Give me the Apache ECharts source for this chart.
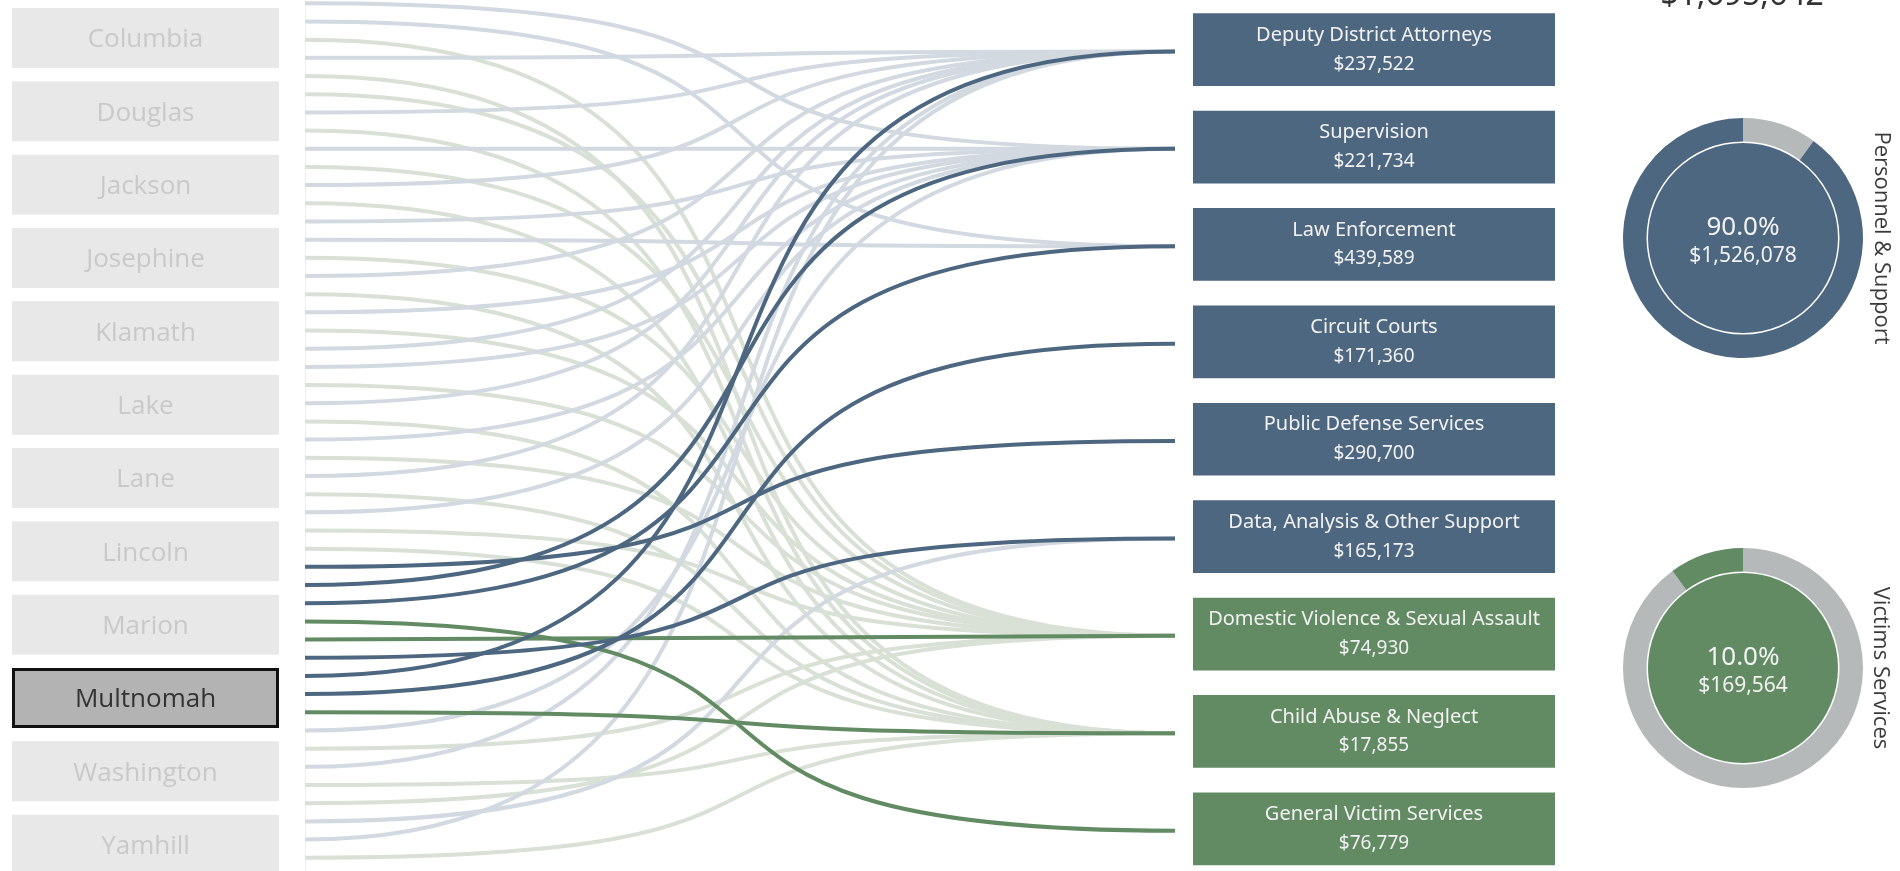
<!DOCTYPE html>
<html>
<head>
<meta charset="utf-8">
<title>Grant spending by county</title>
<script src="https://cdn.jsdelivr.net/npm/echarts@6/dist/echarts.min.js"></script>
<style>
  html, body { margin: 0; padding: 0; background: #fff; }
  #main { width: 1900px; height: 871px; }
</style>
</head>
<body>
<div id="main"></div>
<script>
// counties on the left
const counties = ['Columbia', 'Douglas', 'Jackson', 'Josephine', 'Klamath', 'Lake', 'Lane', 'Lincoln', 'Marion', 'Multnomah', 'Washington', 'Yamhill']
const selectedCounty = 'Multnomah'

// spending categories on the right
const categories = ['Deputy District Attorneys', 'Supervision', 'Law Enforcement', 'Circuit Courts', 'Public Defense Services', 'Data, Analysis & Other Support', 'Domestic Violence & Sexual Assault', 'Child Abuse & Neglect', 'General Victim Services']
const categoryCodes = ['DDA', 'SUP', 'LAW', 'CC', 'PDS', 'DATA', 'DV', 'CAN', 'GVS']
const categoryGroup = [0, 0, 0, 0, 0, 0, 1, 1, 1]
// amounts for the selected county
const amounts = [237522, 221734, 439589, 171360, 290700, 165173, 74930, 17855, 76779]

const groupNames = ['Personnel & Support', 'Victims Services']

// one line per county/category pair, top to bottom
const countyLinks = {
  Columbia: ['SUP', 'LAW', 'DV', 'DDA', 'CAN'],
  Douglas: ['DV', 'DDA', 'CAN'],
  Jackson: ['SUP', 'DV', 'DDA', 'CAN'],
  Josephine: ['SUP', 'LAW', 'DV', 'DDA', 'CAN'],
  Klamath: ['SUP', 'DV', 'DDA'],
  Lake: ['SUP', 'DV', 'DDA', 'CAN'],
  Lane: ['SUP', 'DV', 'DDA', 'CAN'],
  Lincoln: ['SUP', 'DV'],
  Marion: ['CAN'],
  Multnomah: ['PDS', 'SUP', 'LAW', 'GVS', 'DV', 'DATA', 'DDA', 'CC', 'CAN'],
  Washington: ['SUP', 'DV', 'DDA', 'CAN'],
  Yamhill: ['DV', 'DATA', 'DDA', 'CAN']
}

const colors = {
  personnel: '#4e6781',
  victims: '#628b64',
  personnelLight: '#d3d9e0',
  victimsLight: '#d9e0d6',
  ring: '#b5b9ba',
  county: '#e8e8e8',
  countySelected: '#b3b3b3'
}

// build the line list
let lines = []
let rank = 0
counties.forEach((county, ci) => {
  (countyLinks[county] || []).forEach(code => {
    lines.push([rank, categoryCodes.indexOf(code), ci])
    rank++
  })
})
// selected county drawn on top
const selIdx = counties.indexOf(selectedCounty)
lines.sort((a, b) => (a[2] === selIdx) - (b[2] === selIdx))

const groupTotals = [0, 0]
amounts.forEach((v, i) => { groupTotals[categoryGroup[i]] += v })
const grandTotal = groupTotals[0] + groupTotals[1]

const RANK_MIN = -0.13
const RANK_MAX = 48.09

function money(v) {
  return '$' + v.toString().replace(/\B(?=(\d{3})+(?!\d))/g, ',')
}

// line end sits at the middle of its category box
function endRank(k) {
  return RANK_MIN + (k + 0.5) * (RANK_MAX - RANK_MIN) / categories.length + 0.1
}

const chart = echarts.init(document.getElementById('main'))

const hiddenValue = (grid) => ({ type: 'value', gridIndex: grid, min: 0, max: 1, show: false })

function donut(group, cy) {
  const main = group === 0 ? colors.personnel : colors.victims
  const other = 1 - group
  return [
    {
      type: 'pie', silent: true, center: [1743, cy], radius: [96.5, 120],
      startAngle: 90, clockwise: true, label: { show: false }, labelLine: { show: false },
      itemStyle: { borderWidth: 0 }, emphasis: { disabled: true },
      data: [
        { value: groupTotals[other], itemStyle: { color: colors.ring } },
        { value: groupTotals[group], itemStyle: { color: main } }
      ]
    },
    {
      type: 'pie', silent: true, center: [1743, cy], radius: [0, 95],
      itemStyle: { color: main, borderWidth: 0 }, emphasis: { disabled: true },
      label: {
        show: true, position: 'center', padding: [6, 0, 0, 0],
        formatter: () => '{p|' + (groupTotals[group] / grandTotal * 100).toFixed(1) + '%}\n{a|' + money(groupTotals[group]) + '}',
        rich: {
          p: { fontFamily: 'Noto Sans', fontSize: 26, color: '#f2f2f2', lineHeight: 31 },
          a: { fontFamily: 'Noto Sans', fontSize: 21, color: '#f2f2f2', lineHeight: 27 }
        }
      },
      data: [{ value: groupTotals[group], name: groupNames[group] }]
    }
  ]
}

const option = {
  animation: false,
  grid: [
    { left: 12, top: 1.35, width: 267, height: 880, outerBoundsMode: 'none' },
    { left: 305, top: 0.95, width: 870, height: 876.6, outerBoundsMode: 'none' },
    { left: 1193, top: 0.95, width: 362, height: 876.6, outerBoundsMode: 'none' }
  ],
  xAxis: [hiddenValue(0), hiddenValue(1), hiddenValue(2)],
  yAxis: [
    { type: 'category', gridIndex: 0, data: counties, inverse: true, show: false },
    {
      type: 'value', gridIndex: 1, min: RANK_MIN, max: RANK_MAX, inverse: true,
      axisLine: { show: true, lineStyle: { color: '#eeeeee', width: 1 } },
      axisTick: { show: false }, axisLabel: { show: false }, splitLine: { show: false }
    },
    { type: 'category', gridIndex: 2, data: categories, inverse: true, show: false }
  ],
  series: [
    {
      type: 'bar', xAxisIndex: 0, yAxisIndex: 0, barWidth: 60, silent: true,
      data: counties.map(name => ({
        value: 1,
        itemStyle: name === selectedCounty
          ? { color: colors.countySelected, borderColor: '#111', borderWidth: 3 }
          : { color: colors.county },
        label: { color: name === selectedCounty ? '#333' : '#c9c9c9' }
      })),
      label: { show: true, position: 'inside', offset: [0, 2], formatter: '{b}', fontFamily: 'Open Sans', fontSize: 26 }
    },
    {
      type: 'custom', xAxisIndex: 1, yAxisIndex: 1, silent: true,
      data: lines,
      renderItem: function (params, api) {
        const dest = api.value(1)
        const sel = api.value(2) === selIdx
        const start = api.coord([0, api.value(0)])
        const end = api.coord([1, endRank(dest)])
        const w = end[0] - start[0]
        const personnel = categoryGroup[dest] === 0
        let stroke
        if (sel) stroke = personnel ? colors.personnel : colors.victims
        else stroke = personnel ? colors.personnelLight : colors.victimsLight
        return {
          type: 'bezierCurve',
          shape: {
            x1: start[0], y1: start[1], x2: end[0], y2: end[1],
            cpx1: start[0] + w * 0.72, cpy1: start[1],
            cpx2: end[0] - w * 0.72, cpy2: end[1]
          },
          style: { stroke: stroke, lineWidth: 4, fill: 'none' }
        }
      }
    },
    {
      type: 'bar', xAxisIndex: 2, yAxisIndex: 2, barWidth: 72.7, silent: true,
      data: categories.map((c, i) => ({
        value: 1,
        itemStyle: { color: categoryGroup[i] === 0 ? colors.personnel : colors.victims }
      })),
      label: {
        show: true, position: 'inside',
        formatter: p => '{n|' + p.name + '}\n{v|' + money(amounts[p.dataIndex]) + '}',
        rich: {
          n: { fontFamily: 'Noto Sans', fontSize: 20, color: '#f2f2f2', lineHeight: 29 },
          v: { fontFamily: 'Noto Sans', fontSize: 19, color: '#f2f2f2', lineHeight: 29 }
        }
      }
    },
    ...donut(0, 238),
    ...donut(1, 668)
  ],
  graphic: [
    {
      type: 'text', x: 1742, y: 12,
      style: { text: money(grandTotal), font: '32px "Noto Sans"', fill: '#333', align: 'center', verticalAlign: 'bottom' }
    },
    {
      type: 'text', x: 1881, y: 238, rotation: -Math.PI / 2,
      style: { text: groupNames[0], font: '22px "Open Sans"', fill: '#3a3a3a', align: 'center', verticalAlign: 'middle' }
    },
    {
      type: 'text', x: 1880, y: 668, rotation: -Math.PI / 2,
      style: { text: groupNames[1], font: '22px "Open Sans"', fill: '#3a3a3a', align: 'center', verticalAlign: 'middle' }
    }
  ]
}

chart.setOption(option)
</script>
</body>
</html>
